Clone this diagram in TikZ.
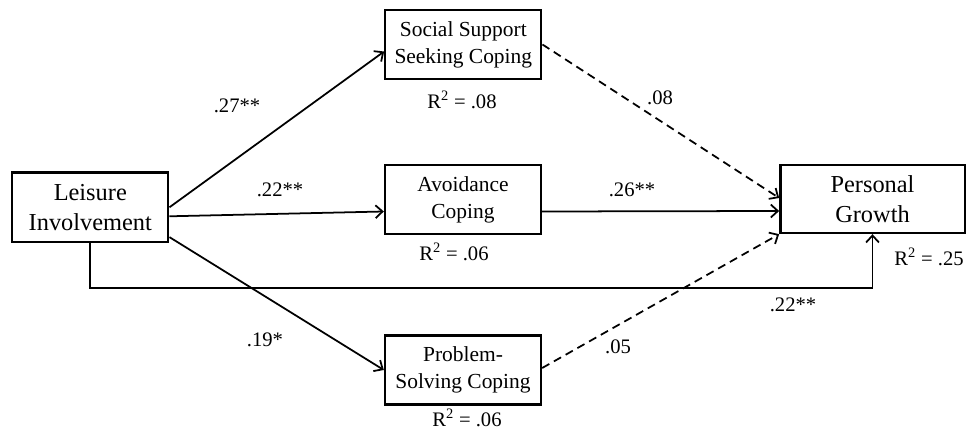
\documentclass[tikz,border=0pt]{standalone}
\usepackage{fontspec}
\setmainfont{Liberation Serif}
\usetikzlibrary{calc,arrows.meta}
\tikzset{
	varbox/.style={draw, line width=2pt, align=center, inner sep=0pt, minimum width=4.68cm, minimum height=2.08cm, font=\fontsize{18.3}{23}\selectfont},
	mainbox/.style={varbox, font=\fontsize{20.8}{25.5}\selectfont},
	effect/.style={line width=1.5pt, -{Straight Barb[length=6pt,width=11pt,line width=1.5pt]}},
	nseffect/.style={effect, dash pattern=on 7pt off 4.5pt},
	coef/.style={inner sep=0pt, font=\fontsize{17.6}{20}\selectfont},
	rsq/.style={coef}
}
\begin{document}
\begin{tikzpicture}[x=0.03cm, y=-0.03cm]
	%%%%% START %%%%%
	\useasboundingbox (0, 0) rectangle (966, 431);
	
	\node[mainbox] (leisure) at (90.3, 207.3) {Leisure\\Involvement};
	\node[varbox] (social) at (463.3, 44.5) {Social Support\\Seeking Coping};
	\node[varbox] (avoid) at (463, 199.5) {Avoidance\\Coping};
	\node[varbox] (problem) at (463, 370) {Problem-\\Solving Coping};
	\node[mainbox, minimum width=5.53cm, minimum height=2.04cm] (growth) at (872.5, 199) {Personal\\Growth};
	
	% from leisure
	\draw[effect] (leisure.east) -- ($(social.west)+(0, 7)$);
	\draw[effect] ($(leisure.east)+(0, 9)$) -- ($(avoid.west)+(0, 12)$);
	\draw[effect] ($(leisure.south east)+(0, -6)$) -- (problem.west);
	
	% to growth
	\draw[nseffect] (social.east) -- ($(growth.west)+(0, -1)$);
	\draw[effect] ($(avoid.east)+(0, 12)$) -- ($(growth.west)+(0, 12)$);
	\draw[nseffect] ($(problem.east)+(0, -2)$) -- (growth.south west);
	
	\coordinate (low) at (0, 288);
	\draw[effect] (leisure.south) |- (low -| growth.south) -- (growth.south);
	
	\node[coef] (c27) at (237, 106) {.27**};
	\node[coef] (c22a) at (280, 190) {.22**};
	\node[coef] (c19) at (265, 340) {.19*};
	\node[coef] (c08) at (660, 98) {.08};
	\node[coef] (c26) at (632, 190) {.26**};
	\node[coef] (c05) at (618, 347) {.05};
	\node[coef] (c22b) at (793, 305) {.22**};
	
	\node[rsq] (rsocial) at (462, 100) {R\textsuperscript{2} = .08};
	\node[rsq] (ravoid) at (454, 252) {R\textsuperscript{2} = .06};
	\node[rsq] (rproblem) at (467, 418) {R\textsuperscript{2} = .06};
	\node[rsq] (rgrowth) at (929, 257) {R\textsuperscript{2} = .25};
	
	%%%%% END %%%%%
\end{tikzpicture}
\end{document}
